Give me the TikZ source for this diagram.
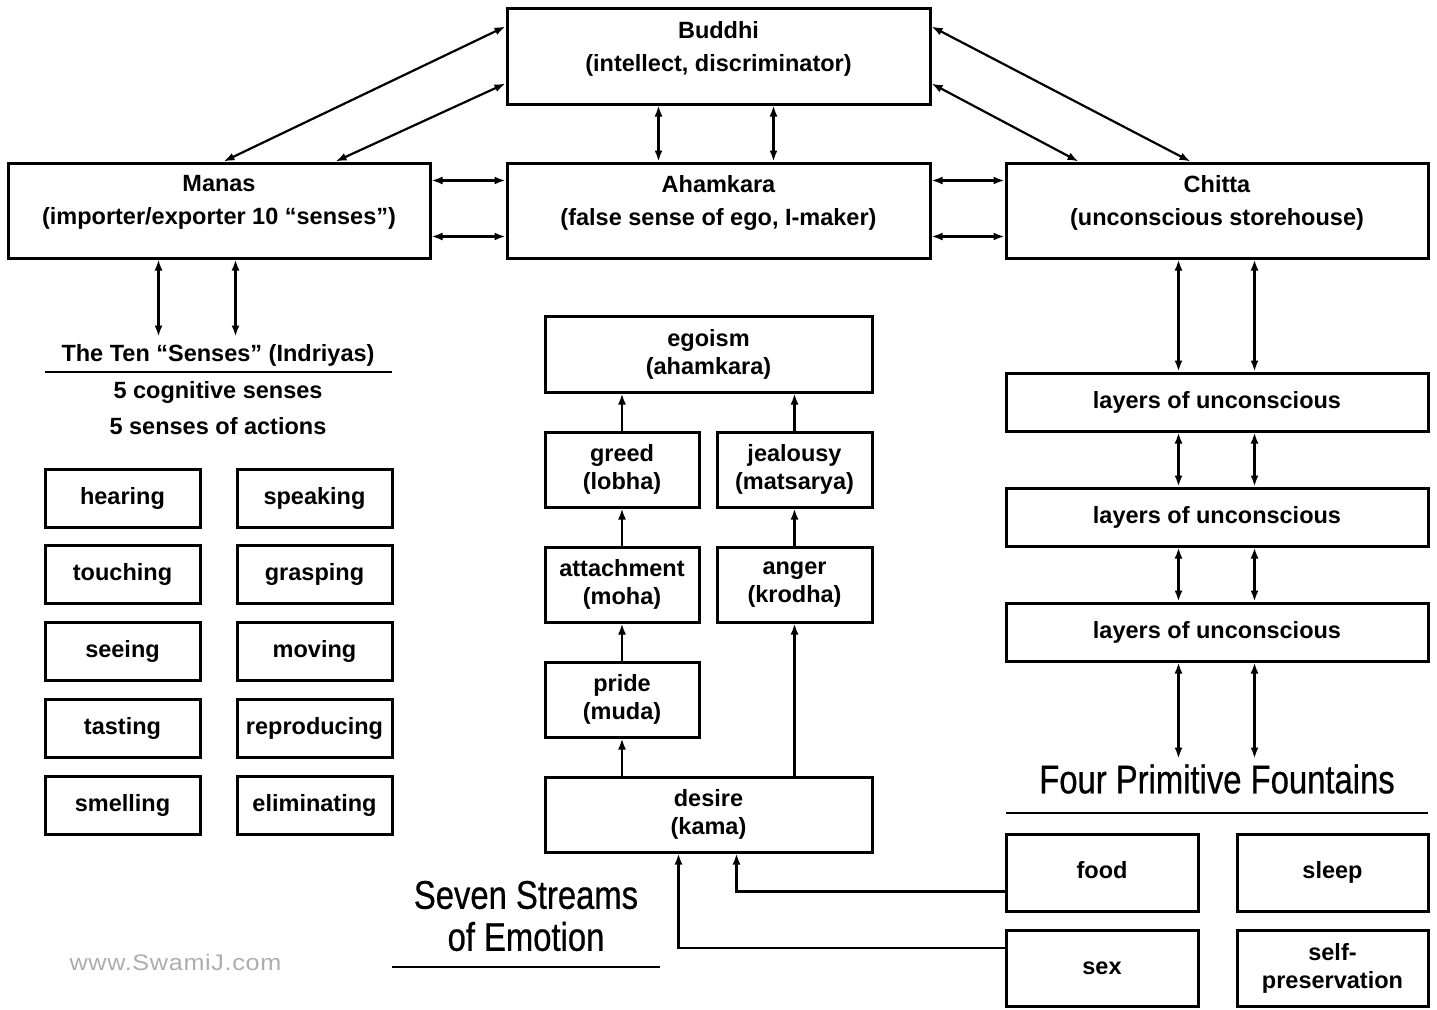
\documentclass[tikz,border=0pt]{standalone}
\usepackage{fontspec}
\usepackage{tikz}
\usetikzlibrary{arrows.meta}
\setmainfont{Liberation Sans}
\newfontfamily\narrowfont{Liberation Sans}[FakeStretch=0.82,FakeBold=0.6]
\newfontfamily\wmfont{Liberation Sans}[FakeStretch=1.12,LetterSpace=3]
\definecolor{wmgray}{HTML}{ADADAD}

\begin{document}
\begin{tikzpicture}[x=1pt, y=-1pt,
  box/.style={draw, line width=3pt, align=center, inner sep=0pt,
    font=\bfseries\fontsize{23.5}{28}\selectfont},
  sbox/.style={box, text height=17pt, text depth=5pt},
  boxtext/.style={align=center, inner sep=0pt, font=\bfseries\fontsize{23.5}{33}\selectfont},
  headtext/.style={inner sep=0pt, font=\bfseries\fontsize{23.5}{28}\selectfont},
  bigtitle/.style={align=center, inner sep=0pt, font=\narrowfont\fontsize{40}{42}\selectfont},
  rule/.style={line width=2.6pt},
  arr/.style={-{Latex[length=11pt,width=8pt]}, line width=2.2pt},
  darr/.style={{Latex[length=11pt,width=8pt]}-{Latex[length=11pt,width=8pt]}, line width=2.2pt}]
\useasboundingbox (0,0) rectangle (1437,1009);

% top row
\node[box, minimum width=423pt, minimum height=96pt] (buddhi) at (718.5,56) {};
\node[boxtext] (buddhitxt) at (718.5,49) {Buddhi\\(intellect, discriminator)};
\node[box, minimum width=422pt, minimum height=95pt] (manas) at (219,210.5) {};
\node[boxtext] (manastxt) at (219,202.5) {Manas\\(importer/exporter 10 “senses”)};
\node[box, minimum width=423pt, minimum height=95pt] (ahamkara) at (718.5,210.5) {};
\node[boxtext] (ahamkaratxt) at (718.5,202.5) {Ahamkara\\(false sense of ego, I-maker)};
\node[box, minimum width=422pt, minimum height=95pt] (chitta) at (1217,210.5) {};
\node[boxtext] (chittatxt) at (1217,202.5) {Chitta\\(unconscious storehouse)};

\draw[darr] ([xshift=217pt]manas.north west) -- ([yshift=-20pt]buddhi.north west);
\draw[darr] ([xshift=329pt]manas.north west) -- ([yshift=-77pt]buddhi.north west);
\draw[darr] ([yshift=-20pt]buddhi.north east) -- ([xshift=186pt]chitta.north west);
\draw[darr] ([yshift=-77pt]buddhi.north east) -- ([xshift=74pt]chitta.north west);
\foreach \dx in {153,268}
  \draw[darr] ([xshift=\dx pt]buddhi.south west) -- ([xshift=\dx pt]ahamkara.north west);
\foreach \dy in {19,75} {
  \draw[darr] ([yshift=-\dy pt]manas.north east) -- ([yshift=-\dy pt]ahamkara.north west);
  \draw[darr] ([yshift=-\dy pt]ahamkara.north east) -- ([yshift=-\dy pt]chitta.north west);
}

% the ten senses
\foreach \dx in {152,229}
  \draw[darr] ([xshift=\dx pt]manas.south west) -- ++(0,77);
\node[headtext] (tentitle) at (218,355) {The Ten “Senses” (Indriyas)};
\draw[rule] (45,372) -- (392,372);
\node[headtext] (cognitive) at (218,392) {5 cognitive senses};
\node[headtext] (actions) at (218,426) {5 senses of actions};
\foreach \sl/\sr [count=\i from 0] in {hearing/speaking, touching/grasping, seeing/moving,
    tasting/reproducing, smelling/eliminating} {
  \node[sbox, minimum width=155pt, minimum height=58pt] (\sl) at (122.5,498+76.8*\i) {\sl};
  \node[sbox, minimum width=155pt, minimum height=58pt] (\sr) at (314.5,498+76.8*\i) {\sr};
}

% seven streams of emotion
\node[box, minimum width=327pt, minimum height=76pt] (egoism) at (708.5,354) {egoism\\(ahamkara)};
\node[box, minimum width=154pt, minimum height=75pt] (greed) at (622,469.5) {greed\\(lobha)};
\node[box, minimum width=155pt, minimum height=75pt] (jealousy) at (794.5,469.5) {jealousy\\(matsarya)};
\node[box, minimum width=154pt, minimum height=75pt] (attachment) at (622,584.5) {attachment\\(moha)};
\node[box, minimum width=155pt, minimum height=75pt] (anger) at (794.5,584.5) {anger\\(krodha)};
\node[box, minimum width=154pt, minimum height=75pt] (pride) at (622,699.5) {pride\\(muda)};
\node[box, minimum width=327pt, minimum height=75pt] (desire) at (708.5,814.5) {desire\\(kama)};

\draw[arr] (greed.north) -- (greed.north |- egoism.south);
\draw[arr] (jealousy.north) -- (jealousy.north |- egoism.south);
\draw[arr] (attachment) -- (greed);
\draw[arr] (anger) -- (jealousy);
\draw[arr] (pride) -- (attachment);
\draw[arr] (pride.south |- desire.north) -- (pride.south);
\draw[arr] (anger.south |- desire.north) -- (anger.south);

\node[bigtitle] (streams) at (526,916) {Seven Streams\\of Emotion};
\draw[rule] (392,967) -- (660,967);
\node[inner sep=0pt, text=wmgray, font=\wmfont\fontsize{22.5}{26}\selectfont] (site) at (175.5,962) {www.SwamiJ.com};

% layers of unconscious
\foreach \n/\y in {1/402,2/517,3/632}
  \node[sbox, minimum width=422pt, minimum height=58pt] (layer\n) at (1217,\y) {layers of unconscious};
\foreach \dx in {174,250} {
  \draw[darr] ([xshift=\dx pt]chitta.south west) -- ([xshift=\dx pt]layer1.north west);
  \draw[darr] ([xshift=\dx pt]layer1.south west) -- ([xshift=\dx pt]layer2.north west);
  \draw[darr] ([xshift=\dx pt]layer2.south west) -- ([xshift=\dx pt]layer3.north west);
  \draw[darr] ([xshift=\dx pt]layer3.south west) -- ++(0,96);
}

% four primitive fountains
\node[bigtitle] (fountains) at (1217,779) {Four Primitive Fountains};
\draw[rule] (1006,813) -- (1428,813);
\node[sbox, minimum width=192pt, minimum height=77pt] (food) at (1102,872.5) {food};
\node[sbox, minimum width=191pt, minimum height=77pt] (sleep) at (1332.5,872.5) {sleep};
\node[sbox, minimum width=192pt, minimum height=76pt] (sex) at (1102,968) {sex};
\node[box, minimum width=191pt, minimum height=76pt] (selfpres) at (1332.5,968) {self-\\preservation};

\draw[arr] ([yshift=-19pt]food.west) -| ([xshift=193pt]desire.south west);
\draw[arr] ([yshift=20pt]sex.west) -| ([xshift=135pt]desire.south west);
\end{tikzpicture}
\end{document}
